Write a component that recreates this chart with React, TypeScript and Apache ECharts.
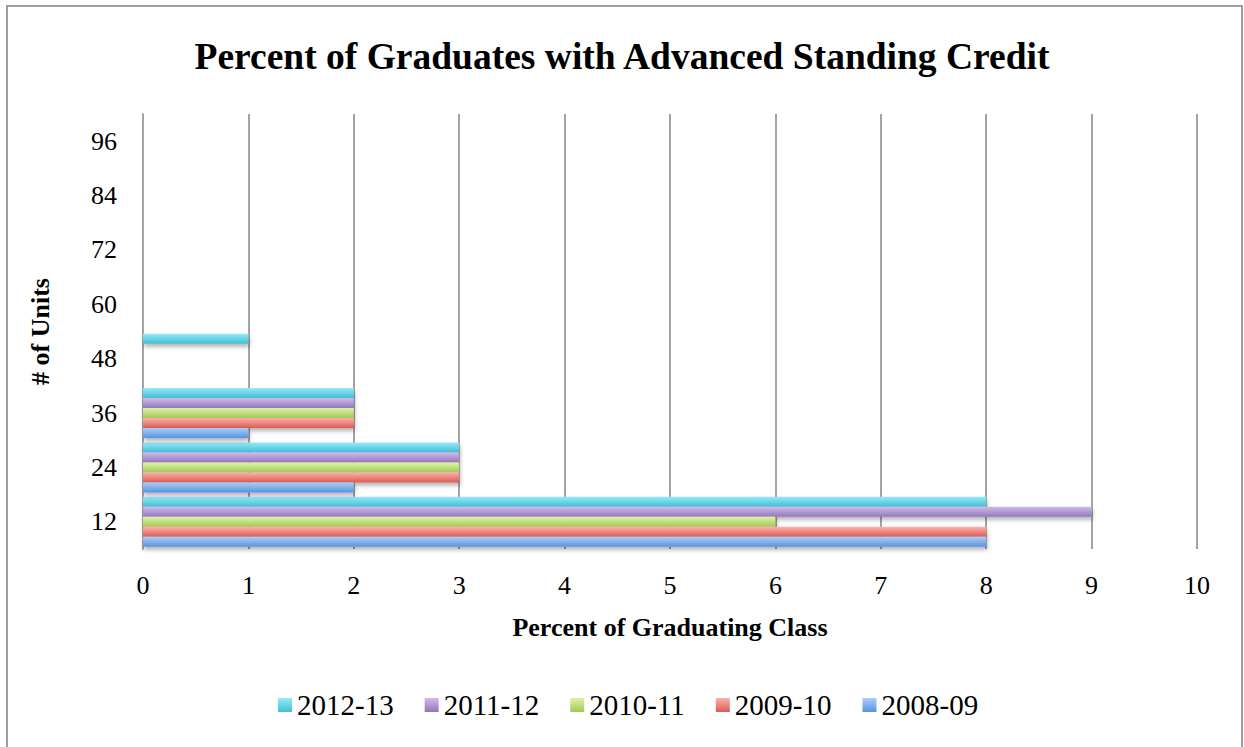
import React, { useEffect, useRef } from "react";
import * as echarts from "echarts";

const categories = ["12", "24", "36", "48", "60", "72", "84", "96"];
const seriesNames = ["2008-09", "2009-10", "2010-11", "2011-12", "2012-13"];
const s0809 = [8, 2, 1, 0, 0, 0, 0, 0];
const s0910 = [8, 3, 2, 0, 0, 0, 0, 0];
const s1011 = [6, 3, 2, 0, 0, 0, 0, 0];
const s1112 = [9, 3, 2, 0, 0, 0, 0, 0];
const s1213 = [8, 3, 2, 1, 0, 0, 0, 0];
const seriesValues = [s0809, s0910, s1011, s1112, s1213];
const xTicks = [0, 10, 1];
const legendOrder = ["2012-13", "2011-12", "2010-11", "2009-10", "2008-09"];

const gradients: [string, string][] = [
  ["#abcef8", "#5794de"],
  ["#fcb2aa", "#db5a54"],
  ["#ddf3a6", "#a5c856"],
  ["#cfbbe7", "#9377bf"],
  ["#95eaf8", "#42bed6"],
];

const FONT = "'Liberation Serif', 'Times New Roman', serif";

export default function App() {
  const ref = useRef<HTMLDivElement>(null);
  useEffect(() => {
    if (!ref.current) return;
    const chart = echarts.init(ref.current, null, { renderer: "svg" });
    const series = seriesNames
      .map((name, i) => ({
        name,
        type: "bar",
        data: seriesValues[i],
        barGap: "0%",
        barCategoryGap: "8%",
        itemStyle: {
          color: new echarts.graphic.LinearGradient(0, 0, 0, 1, [
            { offset: 0, color: gradients[i][0] },
            { offset: 1, color: gradients[i][1] },
          ]),
          shadowColor: "rgba(0,0,0,0.3)",
          shadowBlur: 4,
          shadowOffsetX: 1,
          shadowOffsetY: 3,
        },
      }))
      .reverse();
    chart.setOption({
      animation: false,
      backgroundColor: "#ffffff",
      title: {
        text: "Percent of Graduates with Advanced Standing Credit",
        left: "center",
        top: 32,
        textStyle: { fontFamily: FONT, fontWeight: "bold", fontSize: 37.5, color: "#000" },
      },
      graphic: [
        {
          type: "rect",
          shape: { x: 7, y: 6, width: 1235, height: 760 },
          style: { fill: "none", stroke: "#9d9d9d", lineWidth: 2 },
          silent: true,
        },
      ],
      legend: {
        data: legendOrder,
        left: 278,
        top: 690,
        padding: 0,
        icon: "rect",
        itemWidth: 14,
        itemHeight: 14,
        itemGap: 31,
        textStyle: { fontFamily: FONT, fontSize: 29, color: "#000", lineHeight: 30 },
      },
      grid: { left: 143, right: 47, top: 114, bottom: 198, containLabel: false },
      xAxis: {
        type: "value",
        min: xTicks[0],
        max: xTicks[1],
        interval: xTicks[2],
        name: "Percent of Graduating Class",
        nameLocation: "middle",
        nameGap: 65,
        nameTextStyle: { fontFamily: FONT, fontWeight: "bold", fontSize: 26, color: "#000" },
        axisLine: { show: false },
        axisTick: { show: false },
        axisLabel: { fontFamily: FONT, fontSize: 26, color: "#000", margin: 23 },
        splitLine: { show: true, lineStyle: { color: "#a3a3a3", width: 2 } },
      },
      yAxis: {
        type: "category",
        data: categories,
        name: "# of Units",
        nameLocation: "middle",
        nameGap: 90,
        nameTextStyle: { fontFamily: FONT, fontWeight: "bold", fontSize: 26, color: "#000" },
        axisLine: { show: true, lineStyle: { color: "#a3a3a3", width: 2 } },
        axisTick: { show: false },
        axisLabel: { fontFamily: FONT, fontSize: 26, color: "#000", margin: 26 },
        splitLine: { show: false },
      },
      series,
    });
    return () => chart.dispose();
  }, []);
  return (
    <div
      ref={ref}
      style={{ position: "fixed", left: 0, top: 0, width: 1244, height: 747, background: "#fff" }}
    />
  );
}
